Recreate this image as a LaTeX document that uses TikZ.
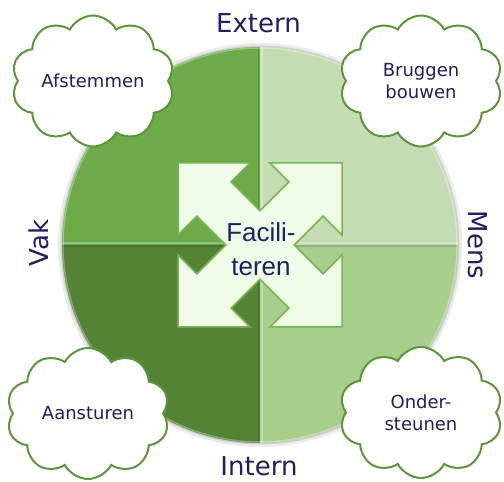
\documentclass[tikz,border=0pt]{standalone}
\usepackage{fontspec}
\setmainfont{DejaVu Sans}
\newfontfamily\arialfont{Liberation Sans}
\usetikzlibrary{shapes.symbols}

\definecolor{navy}{HTML}{221E62}
\definecolor{qtl}{HTML}{6CAB48}
\definecolor{qtr}{HTML}{C3DCB2}
\definecolor{qbl}{HTML}{558336}
\definecolor{qbr}{HTML}{A8CE8C}
\definecolor{arrowfill}{HTML}{F0FBE7}
\definecolor{arrowline}{HTML}{76B555}
\definecolor{cloudline}{HTML}{5A963C}

\begin{document}
\begin{tikzpicture}[x=1pt,y=1pt,
    side/.style={text=navy,font=\fontsize{26}{30}\selectfont,inner sep=0pt},
    cloudbox/.style={cloud,cloud puffs=10,cloud puff arc=125,cloud ignores aspect,
      draw=cloudline,line width=2pt,fill=white,minimum width=163pt,minimum height=131pt,
      text=navy,font=\fontsize{18}{21.6}\selectfont,align=center,inner sep=0pt}]
  \useasboundingbox (0,0) rectangle (504,482);
  \coordinate (c) at (260,237);
  % halo round the disc
  \fill[black!8] (c) circle (202);
  \fill[black!18] (c) circle (199.5);
  % the four quarters
  \begin{scope}
    \clip (c) circle (198);
    \fill[qtl] (c) rectangle ++(-200,200);
    \fill[qtr] (c) rectangle ++(200,200);
    \fill[qbl] (c) rectangle ++(-200,-200);
    \fill[qbr] (c) rectangle ++(200,-200);
    % bevels on the dividers
    \draw[white,opacity=.25,line width=2pt] (c) ++(-198,2) -- ++(396,0);
    \draw[black,opacity=.15,line width=1.5pt] (c) ++(-198,-1) -- ++(396,0);
    \draw[black,opacity=.15,line width=1.5pt] (c) ++(-1.5,-198) -- ++(0,396);
    \draw[white,opacity=.3,line width=2pt] (c) ++(2,-198) -- ++(0,396);
    \draw[white,opacity=.3,line width=1.5pt] (c) circle (197);
  \end{scope}
  % four arrows out to the corners
  \begin{scope}[shift={(c)}]
    \filldraw[fill=arrowfill,draw=arrowline,line width=1.5pt,line join=miter]
      (-82,82) -- (-10,82) -- (-28.85,63.15) -- (0,34.3) -- (28.85,63.15) -- (10,82)
      -- (82,82) -- (82,10) -- (63.15,28.85) -- (34.3,0) -- (63.15,-28.85) -- (82,-10)
      -- (82,-82) -- (10,-82) -- (28.85,-63.15) -- (0,-34.3) -- (-28.85,-63.15) -- (-10,-82)
      -- (-82,-82) -- (-82,-10) -- (-63.15,-28.85) -- (-34.3,0) -- (-63.15,28.85) -- (-82,10)
      -- cycle;
  \end{scope}
  \node[text=navy,align=center,inner sep=0pt,font=\arialfont\fontsize{26}{34}\selectfont]
    (facil) at (261,233) {Facili-\\teren};
  % clouds
  \node[cloudbox] (afstemmen) at (93,401) {Afstemmen};
  \node[cloudbox] (bruggen) at (421,401) {Bruggen\\bouwen};
  \node[cloudbox] (aansturen) at (88,68.5) {Aansturen};
  \node[cloudbox] (onder) at (421,69.5) {Onder-\\steunen};
  % side labels
  \node[side,anchor=base] (extern) at (258.5,449.7) {Extern};
  \node[side,anchor=base] (intern) at (259,6) {Intern};
  \node[side,anchor=base,rotate=90] (vak) at (48,239) {Vak};
  \node[side,anchor=base,rotate=-90] (mens) at (468,237) {Mens};
\end{tikzpicture}
\end{document}
